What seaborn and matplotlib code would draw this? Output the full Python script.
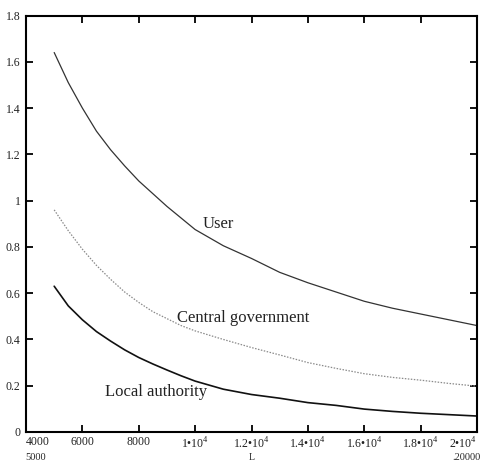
import pandas as pd
import seaborn as sns
import matplotlib.pyplot as plt

# values
L_values = [5000, 5500, 6000, 6500, 7000, 7500, 8000, 8500, 9000, 9500, 10000,
            11000, 12000, 13000, 14000, 15000, 16000, 17000, 18000, 19000, 20000]
user = [1.64, 1.51, 1.40, 1.30, 1.22, 1.15, 1.085, 1.03, 0.975, 0.925, 0.875,
        0.805, 0.75, 0.69, 0.645, 0.605, 0.565, 0.535, 0.51, 0.485, 0.46]
central_government = [0.96, 0.87, 0.79, 0.72, 0.66, 0.605, 0.56, 0.52, 0.49, 0.46, 0.437,
                      0.40, 0.365, 0.333, 0.30, 0.275, 0.252, 0.236, 0.224, 0.21, 0.198]
local_authority = [0.63, 0.545, 0.485, 0.434, 0.393, 0.355, 0.322, 0.294, 0.268, 0.243, 0.22,
                   0.185, 0.162, 0.146, 0.127, 0.115, 0.099, 0.089, 0.081, 0.075, 0.069]

x_ticks = [4000, 6000, 8000, 10000, 12000, 14000, 16000, 18000, 20000]
x_ticklabels = ["4000", "6000", "8000", "1\u202210$^4$", "1.2\u202210$^4$", "1.4\u202210$^4$",
                "1.6\u202210$^4$", "1.8\u202210$^4$", "2\u202210$^4$"]
y_ticks = [0, 0.2, 0.4, 0.6, 0.8, 1.0, 1.2, 1.4, 1.6, 1.8]
y_ticklabels = ["0", "0.2", "0.4", "0.6", "0.8", "1", "1.2", "1.4", "1.6", "1.8"]

df = pd.DataFrame({"L": L_values, "User": user,
                   "Central government": central_government,
                   "Local authority": local_authority})

sns.set_theme(style="white")
plt.rcParams['font.family'] = ['Liberation Serif', 'DejaVu Serif']
plt.rcParams['mathtext.fontset'] = 'custom'
plt.rcParams['mathtext.rm'] = 'Liberation Serif'

fig = plt.figure(figsize=(4.8, 4.62), dpi=100)
ax = fig.add_axes([26 / 480, 30 / 462, 451 / 480, 416.5 / 462])

sns.lineplot(data=df, x="L", y="User", ax=ax, color="#333333", linewidth=0.9)
sns.lineplot(data=df, x="L", y="Central government", ax=ax, color="#8a8a8a",
             linewidth=0.9, linestyle=(0, (1.2, 1.2)))
sns.lineplot(data=df, x="L", y="Local authority", ax=ax, color="#111111", linewidth=1.2)

ax.set_xlim(4000, 20000)
ax.set_ylim(0, 1.8)
ax.set_xticks(x_ticks)
ax.set_xticklabels(x_ticklabels, fontsize=8.5, color="#222222")
ax.set_yticks(y_ticks)
ax.set_yticklabels(y_ticklabels, fontsize=8.5, color="#222222")
xlabels = ax.get_xticklabels()
xlabels[0].set_ha("left")
xlabels[-1].set_ha("right")
ax.set_xlabel("")
ax.set_ylabel("")
ax.tick_params(direction="in", length=5, width=1.3, color="black",
               top=True, right=True, bottom=True, left=True, pad=4)
ax.tick_params(axis="x", pad=3)
for spine in ax.spines.values():
    spine.set_color("black")
    spine.set_linewidth(1.5)

# curve labels
ax.text(10280, 0.90, "User", fontsize=12, va="center", color="#222222")
ax.text(9350, 0.493, "Central government", fontsize=12, va="center", color="#222222")
ax.text(6800, 0.173, "Local authority", fontsize=12, va="center", color="#222222")

# mathcad style range labels
fig.text(36 / 480, 5 / 462, "5000", fontsize=7.5, ha="center", va="center")
fig.text(466 / 480, 5 / 462, ".20000", fontsize=7.5, ha="center", va="center")
fig.text(252 / 480, 4 / 462, "L", fontsize=7, ha="center", va="center")

fig.savefig("out.png", dpi=100)
